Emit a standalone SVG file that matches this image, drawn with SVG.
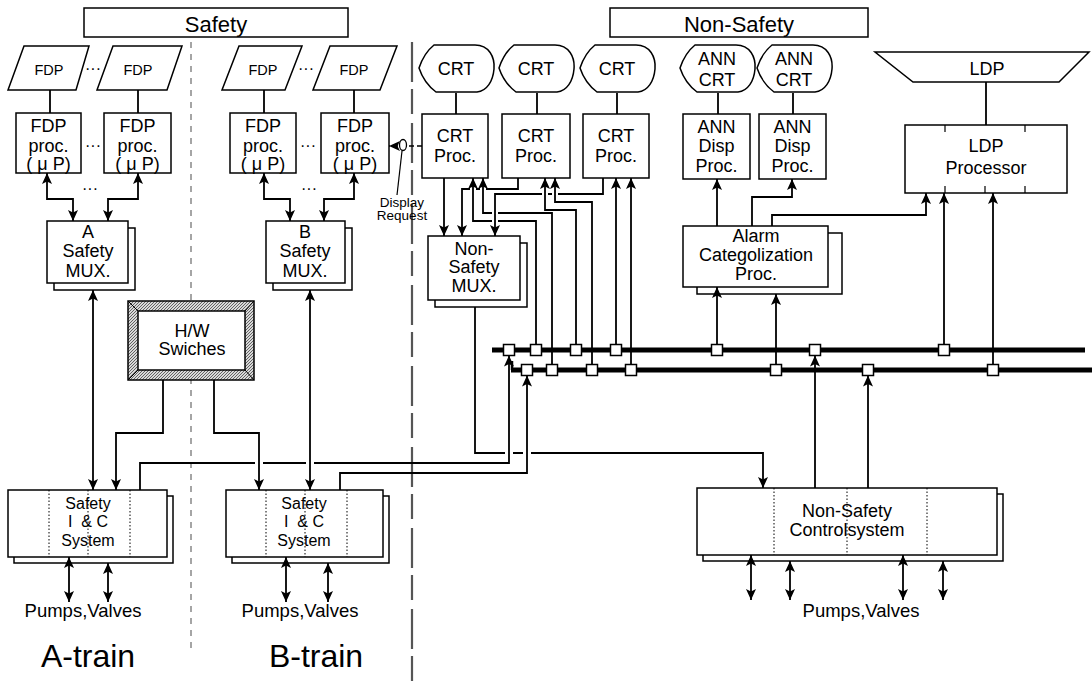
<svg xmlns="http://www.w3.org/2000/svg" width="1092" height="688" viewBox="0 0 1092 688">
<style>
.bx{fill:#fff;stroke:#000;stroke-width:1.5}
.ln{fill:none;stroke:#000;stroke-width:1.8}
.ar{marker-end:url(#ah)}
.ar2{marker-start:url(#ah);marker-end:url(#ah)}
.t{font-family:"Liberation Sans",Arial,Helvetica,sans-serif;font-size:18px;text-anchor:middle;fill:#000}
.s15{font-size:14.5px}
.hd{font-size:22px}
.tr{font-size:32px}
.dr{font-size:13.5px}
.pv{font-size:18.5px}
.ic{font-size:16px}
.dots{font-size:16px}
.dv{fill:none;stroke:#000;stroke-width:1;stroke-dasharray:1.5 2}
.bus{fill:none;stroke:#000;stroke-width:5}
.jn{fill:#fff;stroke:#000;stroke-width:1.5}
.sep1{fill:none;stroke:#888;stroke-width:1.5;stroke-dasharray:6 6}
.sep2{fill:none;stroke:#555;stroke-width:2.2;stroke-dasharray:40 7 25 9}
.dash{fill:none;stroke:#000;stroke-width:1.5;stroke-dasharray:5 3}
</style>
<defs>
<marker id="ah" viewBox="0 0 11 10" refX="11" refY="5" markerWidth="11" markerHeight="10" markerUnits="userSpaceOnUse" orient="auto-start-reverse"><path d="M0,0 L11,5 L0,10 L2.5,5 Z" fill="#000"/></marker>
<path id="crt" class="bx" d="M15,0 H56 C70,0 76,12 75,24 C74,36 68,46 58,47 H17 Q5,38 0,23 Q5,8 15,0 Z"/>
<pattern id="hatch" width="3" height="3" patternUnits="userSpaceOnUse"><rect width="3" height="3" fill="#d8d8d8"/><path d="M0,3 L3,0" stroke="#555" stroke-width="0.9"/></pattern>
</defs>
<rect width="1092" height="688" fill="#fff"/>

<g id="separators">
<path class="sep1" d="M191,42 V652"/>
<path class="sep2" d="M412,42 V685"/>
</g>

<g id="hdr-safety"><rect class="bx" x="84" y="8" width="264" height="29"/><text class="t hd" x="216" y="31.5">Safety</text></g>
<g id="hdr-nonsafety"><rect class="bx" x="610" y="8" width="258" height="29"/><text class="t hd" x="739" y="31.5">Non-Safety</text></g>

<g id="fdp-a1"><polygon class="bx" points="24,46 89,46 76,90 8,90"/><text class="t s15" x="49" y="75">FDP</text></g>
<g id="fdp-a2"><polygon class="bx" points="113,46 182,46 167,90 97,90"/><text class="t s15" x="138" y="75">FDP</text></g>
<g id="fdp-b1"><polygon class="bx" points="239,46 302,46 285,90 222,90"/><text class="t s15" x="263" y="75">FDP</text></g>
<g id="fdp-b2"><polygon class="bx" points="330,46 397,46 380,90 313,90"/><text class="t s15" x="354" y="75">FDP</text></g>

<g id="fdpproc-a1"><rect class="bx" x="16" y="113" width="65" height="60"/><text class="t" x="48.5" y="132">FDP</text><text class="t" x="48.5" y="152">proc.</text><text class="t" x="48.5" y="170">( μ P)</text></g>
<g id="fdpproc-a2"><rect class="bx" x="104" y="113" width="67" height="60"/><text class="t" x="137.5" y="132">FDP</text><text class="t" x="137.5" y="152">proc.</text><text class="t" x="137.5" y="170">( μ P)</text></g>
<g id="fdpproc-b1"><rect class="bx" x="230" y="113" width="66" height="60"/><text class="t" x="263" y="132">FDP</text><text class="t" x="263" y="152">proc.</text><text class="t" x="263" y="170">( μ P)</text></g>
<g id="fdpproc-b2"><rect class="bx" x="321" y="113" width="68" height="60"/><text class="t" x="355" y="132">FDP</text><text class="t" x="355" y="152">proc.</text><text class="t" x="355" y="170">( μ P)</text></g>

<g id="ellipses">
<text class="t dots" x="93" y="74">···</text>
<text class="t dots" x="306" y="74">···</text>
<text class="t dots" x="93" y="151">···</text>
<text class="t dots" x="308" y="151">···</text>
<text class="t dots" x="90" y="194">···</text>
<text class="t dots" x="309" y="194">···</text>
</g>

<g id="mux-a"><rect class="bx" x="54" y="228" width="81" height="62"/><rect class="bx" x="47" y="221" width="81" height="62"/><text class="t" x="88" y="238">A</text><text class="t" x="88" y="257">Safety</text><text class="t" x="88" y="277">MUX.</text></g>
<g id="mux-b"><rect class="bx" x="273" y="228" width="79" height="62"/><rect class="bx" x="266" y="221" width="79" height="62"/><text class="t" x="305" y="238">B</text><text class="t" x="305" y="257">Safety</text><text class="t" x="305" y="277">MUX.</text></g>

<g id="hw-switches">
<rect x="128" y="301" width="126" height="79" fill="url(#hatch)" stroke="#000" stroke-width="1.5"/>
<rect class="bx" x="138" y="311" width="107" height="59"/>
<path d="M128,301 L138,311 M254,301 L245,311 M128,380 L138,370 M254,380 L245,370" stroke="#000" stroke-width="1"/>
<text class="t" x="192" y="337">H/W</text><text class="t" x="192" y="355">Swiches</text>
</g>

<g id="ic-a"><rect class="bx" x="14" y="496" width="159" height="67"/><rect class="bx" x="8" y="490" width="159" height="67"/>
<path class="dv" d="M49,490 V557 M88,490 V557 M130,490 V557"/>
<text class="t ic" x="88" y="508.5">Safety</text><text class="t ic" x="88" y="527" xml:space="preserve">I  &amp; C</text><text class="t ic" x="88" y="545.5">System</text></g>
<g id="ic-b"><rect class="bx" x="232" y="496" width="157" height="67"/><rect class="bx" x="226" y="490" width="157" height="67"/>
<path class="dv" d="M266,490 V557 M305,490 V557 M347,490 V557"/>
<text class="t ic" x="304" y="508.5">Safety</text><text class="t ic" x="304" y="527" xml:space="preserve">I  &amp; C</text><text class="t ic" x="304" y="545.5">System</text></g>

<g id="crt1"><use href="#crt" x="419" y="45"/><text class="t" x="456" y="75">CRT</text></g>
<g id="crt2"><use href="#crt" x="499" y="45"/><text class="t" x="536" y="75">CRT</text></g>
<g id="crt3"><use href="#crt" x="580" y="45"/><text class="t" x="617" y="75">CRT</text></g>
<g id="ann-crt1"><use href="#crt" x="680" y="45"/><text class="t" x="717" y="65">ANN</text><text class="t" x="717" y="86">CRT</text></g>
<g id="ann-crt2"><use href="#crt" x="757" y="45"/><text class="t" x="794" y="65">ANN</text><text class="t" x="794" y="86">CRT</text></g>

<g id="crtproc1"><rect class="bx" x="422" y="114" width="66" height="64"/><text class="t" x="455" y="142">CRT</text><text class="t" x="455" y="162">Proc.</text></g>
<g id="crtproc2"><rect class="bx" x="502" y="114" width="68" height="64"/><text class="t" x="536" y="142">CRT</text><text class="t" x="536" y="162">Proc.</text></g>
<g id="crtproc3"><rect class="bx" x="583" y="114" width="66" height="64"/><text class="t" x="616" y="142">CRT</text><text class="t" x="616" y="162">Proc.</text></g>
<g id="anndisp1"><rect class="bx" x="683" y="114" width="67" height="65"/><text class="t" x="716.5" y="133">ANN</text><text class="t" x="716.5" y="152">Disp</text><text class="t" x="716.5" y="172">Proc.</text></g>
<g id="anndisp2"><rect class="bx" x="759" y="114" width="67" height="65"/><text class="t" x="792.5" y="133">ANN</text><text class="t" x="792.5" y="152">Disp</text><text class="t" x="792.5" y="172">Proc.</text></g>

<g id="ldp"><polygon class="bx" points="875,52 1089,52 1059,82 913,82"/><text class="t" x="987" y="75">LDP</text></g>
<g id="ldp-proc"><rect class="bx" x="905" y="125" width="162" height="68"/>
<path d="M945,125 V132 M1025,125 V132 M945,193 V186 M985,193 V186 M1025,193 V186" stroke="#000" stroke-width="1.2"/>
<text class="t" x="986" y="152">LDP</text><text class="t" x="986" y="174">Processor</text></g>

<g id="ns-mux"><rect class="bx" x="435" y="243" width="92" height="64"/><rect class="bx" x="428" y="236" width="92" height="64"/><text class="t" x="474" y="255">Non-</text><text class="t" x="474" y="273">Safety</text><text class="t" x="474" y="292">MUX.</text></g>

<g id="alarm"><rect class="bx" x="697" y="233" width="145" height="61"/><rect class="bx" x="683" y="226" width="145" height="61"/><text class="t" x="756" y="242">Alarm</text><text class="t" x="756" y="261">Categolization</text><text class="t" x="756" y="280">Proc.</text></g>

<g id="ns-control"><rect class="bx" x="703" y="494" width="300" height="67"/><rect class="bx" x="697" y="488" width="300" height="67"/>
<path class="dv" d="M774,488 V555 M847,488 V555 M927,488 V555"/>
<text class="t" x="847" y="517">Non-Safety</text><text class="t" x="847" y="536">Controlsystem</text></g>

<g id="labels">
<text class="t pv" x="83" y="617">Pumps,Valves</text>
<text class="t pv" x="300" y="617">Pumps,Valves</text>
<text class="t pv" x="861" y="617">Pumps,Valves</text>
<text class="t tr" x="88" y="667">A-train</text>
<text class="t tr" x="316" y="667">B-train</text>
<text class="t dr" x="402" y="207">Display</text>
<text class="t dr" x="402" y="220">Request</text>
</g>

<g id="connectors">
<path class="ln" d="M50,90 V113 M138,90 V113 M264,90 V113 M354,90 V113 M456,93 V114 M537,93 V114 M617,93 V114 M718,93 V114 M793,93 V114 M986,82 V125"/>
<path class="ln ar2" d="M47,173 V199 H73 V221"/>
<path class="ln ar2" d="M138,173 V199 H108 V221"/>
<path class="ln ar2" d="M264,173 V199 H290 V221"/>
<path class="ln ar2" d="M354,173 V199 H324 V221"/>
<path class="ln ar2" d="M93,290 V490"/>
<path class="ln ar2" d="M310,290 V490"/>
<path class="ln ar" d="M163,380 V433 H116 V490"/>
<path class="ln ar" d="M214,380 V433 H259 V490"/>
<path class="ln" d="M140,490 V463 H255 M263,463 H306"/>
<path class="ln ar" d="M314,463 H509 V355.5"/>
<path class="ln ar" d="M340,490 V473 H527 V375.5"/>
<path class="ln ar2" d="M69,557 V602"/>
<path class="ln ar2" d="M108,563 V602"/>
<path class="ln ar2" d="M286,557 V602"/>
<path class="ln ar2" d="M328,563 V602"/>
<path class="ln ar2" d="M751,555 V600"/>
<path class="ln ar2" d="M790,561 V600"/>
<path class="ln ar2" d="M903,555 V600"/>
<path class="ln ar2" d="M943,561 V600"/>
<path class="ln" d="M475,307 V453 H505 M513,453 H523"/>
<path class="ln ar" d="M531,453 H763 V488"/>
<path class="ln ar" d="M815,488 V355.5"/>
<path class="ln ar" d="M868,488 V375.5"/>
<path class="dash ar" d="M422,146 H389"/>
<ellipse cx="403" cy="145" rx="3.5" ry="5.5" fill="#fff" stroke="#000" stroke-width="1.3"/>
<path class="ln" style="stroke-width:1.2" d="M402,151 L397,195"/>
<path class="ln ar" d="M444,178 V236"/>
<path class="ln" d="M518,178 V189 H486 M480,189 H476"/>
<path class="ln ar" d="M470,189 H462 V236"/>
<path class="ln" d="M603,178 V194 H558 M552,194 H548"/>
<path class="ln ar" d="M542,194 H495 V236"/>
<path class="ln" d="M536,350 V221 H498"/>
<path class="ln ar" d="M492,221 H473 V178"/>
<path class="ln" d="M552,370 V213 H498"/>
<path class="ln ar" d="M492,213 H483 V178"/>
<path class="ln ar" d="M576,350 V210 H545 V178"/>
<path class="ln ar" d="M592,370 V202 H555 V178"/>
<path class="ln ar" d="M616,350 V178"/>
<path class="ln ar" d="M631,370 V178"/>
<path class="ln ar" d="M717,350 V287"/>
<path class="ln ar" d="M776,370 V294"/>
<path class="ln ar" d="M717,226 V179"/>
<path class="ln ar" d="M752,226 V197 H792 V179"/>
<path class="ln ar" d="M772,226 V215 H926 V193"/>
<path class="ln ar" d="M944,350 V193"/>
<path class="ln ar" d="M993,370 V193"/>
</g>

<g id="buses">
<path class="bus" d="M492,350 H1085"/>
<path d="M512,361 V370" stroke="#000" stroke-width="2.5" fill="none"/>
<path class="bus" d="M511,370 H1092"/>
<rect class="jn" x="503.5" y="344.5" width="11" height="11"/>
<rect class="jn" x="530.5" y="344.5" width="11" height="11"/>
<rect class="jn" x="570.5" y="344.5" width="11" height="11"/>
<rect class="jn" x="610.5" y="344.5" width="11" height="11"/>
<rect class="jn" x="711.5" y="344.5" width="11" height="11"/>
<rect class="jn" x="809.5" y="344.5" width="11" height="11"/>
<rect class="jn" x="938.5" y="344.5" width="11" height="11"/>
<rect class="jn" x="521.5" y="364.5" width="11" height="11"/>
<rect class="jn" x="546.5" y="364.5" width="11" height="11"/>
<rect class="jn" x="586.5" y="364.5" width="11" height="11"/>
<rect class="jn" x="625.5" y="364.5" width="11" height="11"/>
<rect class="jn" x="770.5" y="364.5" width="11" height="11"/>
<rect class="jn" x="862.5" y="364.5" width="11" height="11"/>
<rect class="jn" x="987.5" y="364.5" width="11" height="11"/>
</g>
</svg>
